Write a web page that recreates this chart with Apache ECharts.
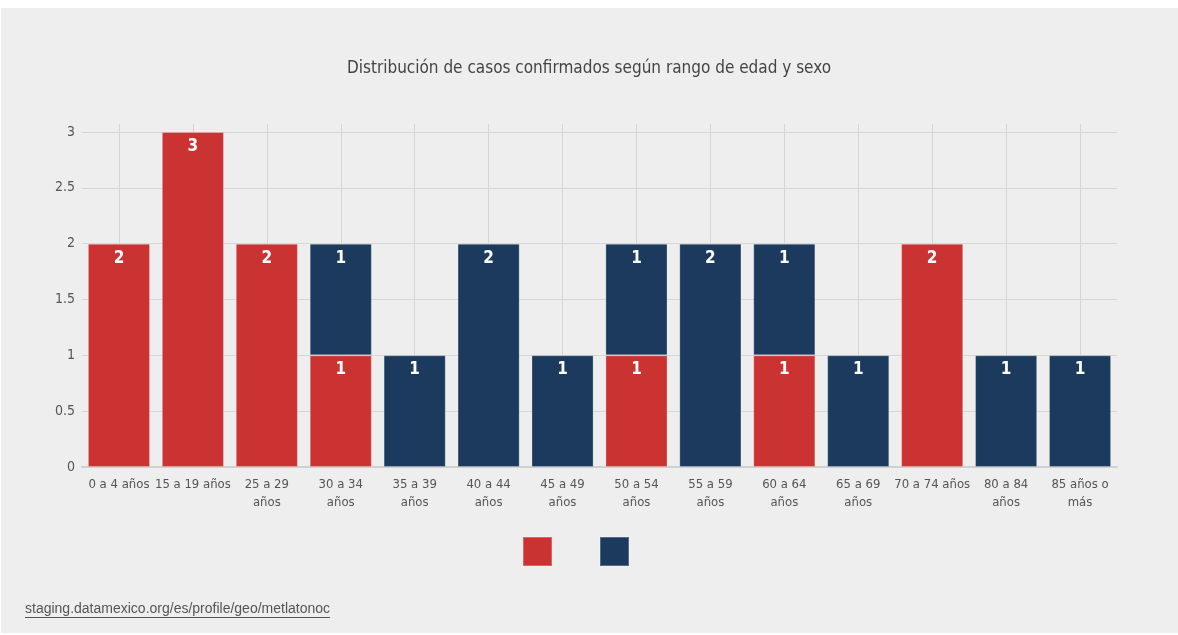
<!DOCTYPE html>
<html><head><meta charset="utf-8">
<script src="https://cdn.jsdelivr.net/npm/echarts@6/dist/echarts.min.js"></script>
<style>html,body{margin:0;padding:0;background:#fff;}#c{width:1178px;height:635px;}</style>
</head><body><div id="c"></div>
<script>
var categories = ["0 a 4 años","15 a 19 años","25 a 29 años","30 a 34 años","35 a 39 años","40 a 44 años","45 a 49 años","50 a 54 años","55 a 59 años","60 a 64 años","65 a 69 años","70 a 74 años","80 a 84 años","85 años o más"];
var tickLabels = ["0 a 4 años","15 a 19 años","25 a 29\naños","30 a 34\naños","35 a 39\naños","40 a 44\naños","45 a 49\naños","50 a 54\naños","55 a 59\naños","60 a 64\naños","65 a 69\naños","70 a 74 años","80 a 84\naños","85 años o\nmás"];
var mujeres = [2,3,2,1,null,null,null,1,null,1,null,2,null,null];
var hombres = [null,null,null,1,1,2,1,1,2,1,1,null,1,1];
var yTicks = [0,0.5,1,1.5,2,2.5,3];
var titleText = "Distribución de casos confirmados según rango de edad y sexo";
var sourceText = "staging.datamexico.org/es/profile/geo/metlatonoc";

var FONT = '"DejaVu Sans Condensed","Liberation Sans Narrow",sans-serif';
var SRCFONT = '14px "Liberation Sans", Arial, sans-serif';
var chart = echarts.init(document.getElementById('c'));

var ctx = document.createElement('canvas').getContext('2d');
ctx.font = SRCFONT;
var srcW = ctx.measureText(sourceText).width;

function labelCfg(){
  return {show:true, position:'insideTop', distance:6, color:'#fff', fontSize:17, fontFamily:FONT, fontWeight:'bold'};
}
chart.setOption({
  backgroundColor:'transparent',
  animation:false,
  graphic:[
    {type:'rect', z:-100, silent:true, shape:{x:1,y:8,width:1177,height:625}, style:{fill:'#eeeeee'}},
    {type:'text', left:25, top:602, style:{text:sourceText, font:SRCFONT, fill:'#555'}},
    {type:'line', silent:true, shape:{x1:25,y1:617.5,x2:25+srcW,y2:617.5}, style:{stroke:'#555', lineWidth:1}}
  ],
  title:{text:titleText, left:'center', top:55, textStyle:{fontFamily:FONT, fontSize:17, fontWeight:'normal', color:'#444'}},
  legend:{left:522, top:536, padding:0, itemWidth:29, itemHeight:29, itemGap:46, icon:'rect', formatter:function(){return '';},
    data:['Mujer','Hombre'], selectedMode:false},
  grid:[
    {left:82, right:61, top:132, bottom:168, containLabel:false},
    {left:82, right:61, top:124, bottom:168, containLabel:false}
  ],
  xAxis:[
    {type:'category', data:categories, gridIndex:0, z:1,
      axisLine:{show:true, lineStyle:{color:'#d0d0d0', width:2}},
      axisTick:{show:false},
      splitLine:{show:false},
      axisLabel:{interval:0, margin:9, color:'#555', fontSize:13, lineHeight:18, fontFamily:FONT,
        formatter:function(v,i){return tickLabels[i];}}
    },
    {type:'category', data:categories, gridIndex:1, z:0,
      axisLine:{show:false}, axisTick:{show:false, alignWithLabel:true, interval:0},
      axisLabel:{show:false, interval:0},
      splitLine:{show:true, interval:0, alignWithLabel:true, lineStyle:{color:'#d6d6d6', width:1}}
    }
  ],
  yAxis:[
    {type:'value', gridIndex:0, min:yTicks[0], max:yTicks[yTicks.length-1], interval:0.5,
      axisLine:{show:false}, axisTick:{show:false},
      splitLine:{show:true, lineStyle:{color:'#d6d6d6', width:1}},
      axisLabel:{margin:7, color:'#555', fontSize:14, fontFamily:FONT}
    },
    {type:'value', gridIndex:1, show:false, min:0, max:1, splitLine:{show:false}}
  ],
  series:[
    {name:'Mujer', type:'bar', stack:'s', data:mujeres, barCategoryGap:'16%', xAxisIndex:0, yAxisIndex:0,
      itemStyle:{color:'#CB3333', borderColor:'rgba(255,255,255,0.25)', borderWidth:1}, label:labelCfg()},
    {name:'Hombre', type:'bar', stack:'s', data:hombres, barCategoryGap:'16%', xAxisIndex:0, yAxisIndex:0,
      itemStyle:{color:'#1B3A5E', borderColor:'rgba(255,255,255,0.25)', borderWidth:1}, label:labelCfg()}
  ]
});
</script></body></html>
